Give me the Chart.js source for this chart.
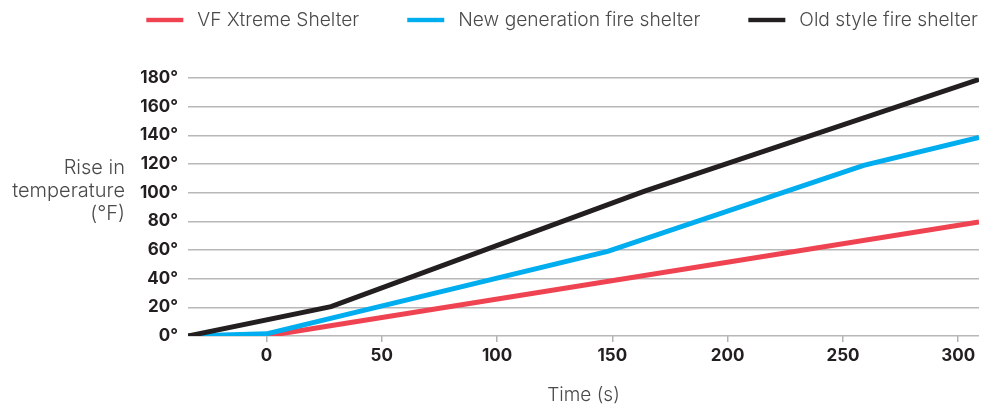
<!DOCTYPE html>
<html><head><meta charset="utf-8">
<script src="https://cdn.jsdelivr.net/npm/chart.js@4"></script>
<style>html,body{margin:0;padding:0;background:#fff}#wrap{width:988px;height:410px;position:relative}</style>
</head><body><div id="wrap"><canvas id="c"></canvas></div>
<script>
const seriesNames = ['VF Xtreme Shelter', 'New generation fire shelter', 'Old style fire shelter'];
const vfTime = [-34, 0, 309];
const vfRise = [0, 0, 79.5];
const newTime = [-34, 0, 148, 259, 309];
const newRise = [0, 1.5, 59, 119, 138.6];
const oldTime = [-34, 28, 164, 309];
const oldRise = [0, 20.5, 101, 179];
const xTickValues = [0, 50, 100, 150, 200, 250, 300];
const yTickValues = [0, 20, 40, 60, 80, 100, 120, 140, 160, 180];
const yTitleLines = ['Rise in', 'temperature', '(°F)'];
const xTitle = 'Time (s)';

const colors = ['#ef4352', '#00aeef', '#231f20'];
const FONT = 'Inter';
const LIGHT = '#4a4a4a';

function pts(xs, ys) { return xs.map((x, i) => ({x: x, y: ys[i]})); }

const yTitlePlugin = {
  id: 'yTitle',
  afterDraw(chart) {
    const ctx = chart.ctx;
    ctx.save();
    ctx.font = '300 20px ' + FONT;
    ctx.fillStyle = LIGHT;
    ctx.textAlign = 'right';
    ctx.textBaseline = 'middle';
    yTitleLines.forEach((t, i) => ctx.fillText(t, 125, 168 + i * 23));
    ctx.restore();
  }
};

const legendPlugin = {
  id: 'lineLegend',
  afterDraw(chart) {
    const ctx = chart.ctx;
    ctx.save();
    ctx.font = '300 19.2px ' + FONT;
    ctx.textBaseline = 'middle';
    ctx.textAlign = 'left';
    const sw = 37, gap = 14, itemGap = 48, cy = 20;
    const items = chart.data.datasets.map(d => ({label: d.label, color: d.borderColor, w: ctx.measureText(d.label).width}));
    let x = 978;
    for (let i = items.length - 1; i >= 0; i--) { x -= items[i].w + gap + sw; items[i].x = x; x -= itemGap; }
    items.forEach(it => {
      ctx.fillStyle = it.color;
      ctx.fillRect(it.x, cy - 2.2, sw, 4.4);
      ctx.fillStyle = LIGHT;
      ctx.fillText(it.label, it.x + sw + gap, cy);
    });
    ctx.restore();
  }
};

new Chart(document.getElementById('c'), {
  type: 'line',
  data: {
    datasets: [
      {label: seriesNames[0], data: pts(vfTime, vfRise), borderColor: colors[0], backgroundColor: colors[0], order: 3},
      {label: seriesNames[1], data: pts(newTime, newRise), borderColor: colors[1], backgroundColor: colors[1], order: 2},
      {label: seriesNames[2], data: pts(oldTime, oldRise), borderColor: colors[2], backgroundColor: colors[2], order: 1}
    ]
  },
  options: {
    responsive: true,
    maintainAspectRatio: false,
    animation: false,
    devicePixelRatio: 1,
    elements: {
      line: {borderWidth: 5, tension: 0, borderCapStyle: 'butt', borderJoinStyle: 'miter'},
      point: {radius: 0, hoverRadius: 0}
    },
    layout: {padding: {top: 78, right: 9, bottom: 0, left: 0}},
    plugins: {
      tooltip: {enabled: false},
      legend: {display: false}
    },
    scales: {
      x: {
        type: 'linear',
        min: -34,
        max: 309,
        afterBuildTicks(scale) { scale.ticks = xTickValues.map(v => ({value: v})); },
        afterFit(scale) { scale.height = 74; },
        grid: {display: true, drawOnChartArea: false, drawTicks: true, tickLength: 6, color: '#b3b3b3', lineWidth: 1.5},
        border: {display: false},
        ticks: {padding: 4, color: '#231f20', font: {family: FONT, size: 17, weight: '700'}, maxRotation: 0, autoSkip: false},
        title: {display: true, text: xTitle, color: LIGHT, font: {family: FONT, size: 19, weight: '300'}, padding: {top: 0, bottom: 3}}
      },
      y: {
        min: 0,
        max: 180,
        afterBuildTicks(scale) { scale.ticks = yTickValues.map(v => ({value: v})); },
        afterFit(scale) { scale.width = 188; },
        grid: {color: '#b8b8b8', lineWidth: 1.5, drawTicks: false},
        border: {display: false},
        ticks: {padding: 10, color: '#231f20', font: {family: FONT, size: 17, weight: '700'}, callback: v => v + '°'}
      }
    }
  },
  plugins: [yTitlePlugin, legendPlugin]
});
</script>
</body></html>
